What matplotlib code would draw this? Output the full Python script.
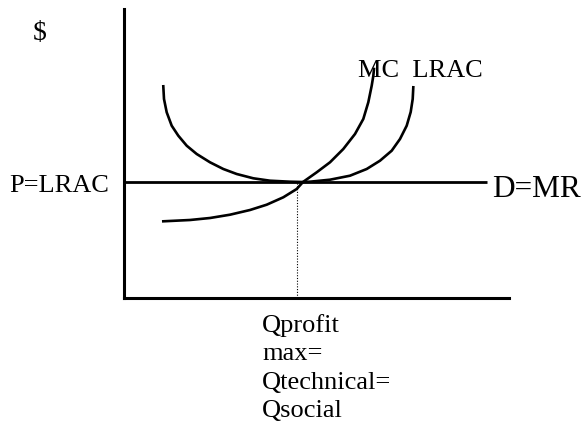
import matplotlib
matplotlib.use("Agg")
import matplotlib.pyplot as plt

# values (Q and $ in pixel-like units from the origin)
price = 116
q_star = 173

lrac_q = [39.3, 40, 42.7, 47.7, 54.3, 62.7, 72.7, 86, 99.3, 112.7, 129.3, 146, 166, 178,
          186, 206, 226, 242.7, 256, 267.7, 276, 282.7, 286.7, 288.7, 289.3]
lrac_p = [211.7, 199, 185.7, 172.3, 162.3, 152.3, 144, 135.7, 129, 124, 119.7, 117.3, 116.3, 116,
          116.3, 118.3, 122.3, 129, 137.3, 147.3, 159, 172.3, 186, 199, 210.7]

mc_q = [39.3, 66, 86, 106, 126, 142.7, 159.3, 172.7, 179, 192.7, 206, 219.3, 231,
        239.3, 244.3, 247.7, 249.3, 250]
mc_p = [76.7, 78, 80, 83.3, 88, 93.3, 100.7, 109, 116, 125.7, 135.7, 149, 164,
        179, 195.7, 212.3, 222, 229]

dmr_q = [0, 363]
q_lines = ["Qprofit", "max=", "Qtechnical=", "Qsocial"]

W, H = 582, 427
plt.rcParams['font.family'] = ['Liberation Serif', 'DejaVu Serif']

fig = plt.figure(figsize=(W / 100, H / 100), dpi=100)
ax = fig.add_axes([124 / W, 1 - 299 / H, (509 - 124) / W, (299 - 10) / H])
ax.set_xlim(0, 385)
ax.set_ylim(0, 289)
for s in ['top', 'right']:
    ax.spines[s].set_visible(False)
for s in ['left', 'bottom']:
    ax.spines[s].set_linewidth(2.2)
ax.set_xticks([])
ax.set_yticks([])

ax.plot(dmr_q, [price, price], color='black', lw=2.0, solid_capstyle='butt')
ax.plot(lrac_q, lrac_p, color='black', lw=1.9, solid_joinstyle='round')
ax.plot(mc_q, mc_p, color='black', lw=1.9, solid_joinstyle='round')
ax.plot([q_star, q_star], [0, price], color='black', lw=0.8, ls=(0, (1, 1.5)))


def px(x, y):
    return x / W, 1 - y / H


fig.text(*px(40, 34), "$", fontsize=20, ha='center', va='center')
fig.text(*px(109, 192), "P=LRAC", fontsize=19, ha='right', va='baseline')
fig.text(*px(492, 197), "D=MR", fontsize=22.5, ha='left', va='baseline')
fig.text(*px(358, 77), "MC  LRAC", fontsize=19, ha='left', va='baseline')
for i, t in enumerate(q_lines):
    fig.text(*px(262, 332 + i * 28.5), t, fontsize=19, ha='left', va='baseline')

fig.savefig("out.png", dpi=100)
